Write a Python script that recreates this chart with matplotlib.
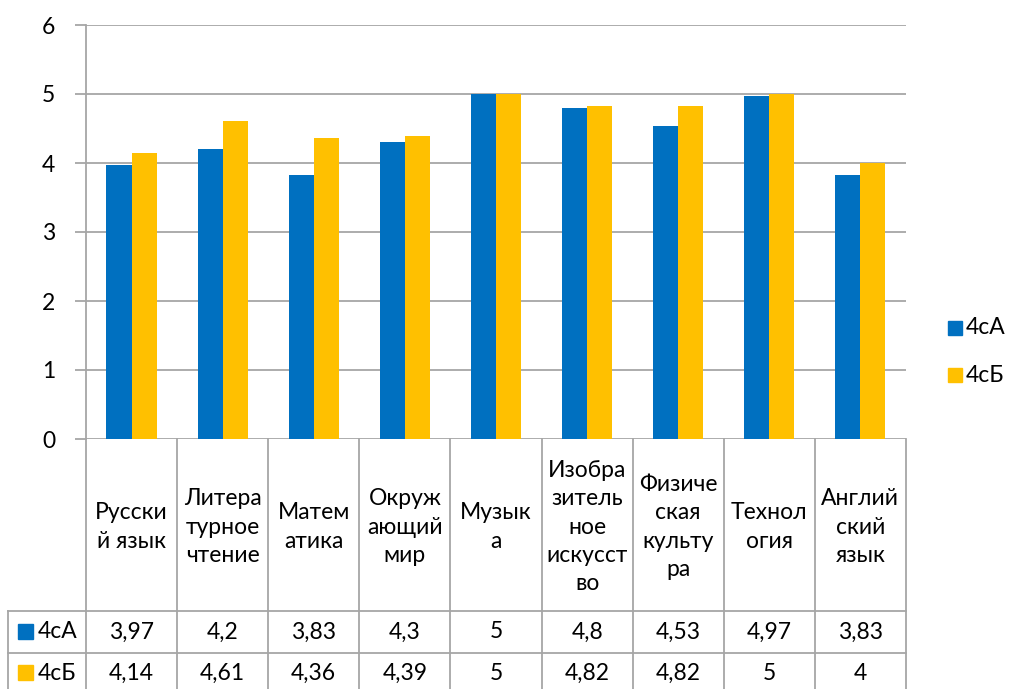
import matplotlib
matplotlib.use("Agg")
import matplotlib.pyplot as plt
import numpy as np

categories = ["Русски\nй язык", "Литера\nтурное\nчтение", "Матем\nатика", "Окруж\nающий\nмир",
              "Музык\nа", "Изобра\nзитель\nное\nискусст\nво", "Физиче\nская\nкульту\nра",
              "Технол\nогия", "Англий\nский\nязык"]
series_names = ["4сА", "4сБ"]
values_a = [3.97, 4.2, 3.83, 4.3, 5, 4.8, 4.53, 4.97, 3.83]
values_b = [4.14, 4.61, 4.36, 4.39, 5, 4.82, 4.82, 5, 4]
colors = ["#0070C0", "#FFC000"]
yticks = [0, 1, 2, 3, 4, 5, 6]

plt.rcParams['font.family'] = ['Lato', 'DejaVu Sans']
FS = 16.5
W, H = 1011, 689
fig = plt.figure(figsize=(W / 100, H / 100), dpi=100)

# pixel layout
x0, x1 = 86, 906
y_top, y_zero = 25, 439
ax = fig.add_axes([x0 / W, (H - y_zero) / H, (x1 - x0) / W, (y_zero - y_top) / H])
n = len(categories)
x = np.arange(n)
bw = 0.275
ax.bar(x - bw / 2, values_a, bw, color=colors[0], zorder=3)
ax.bar(x + bw / 2, values_b, bw, color=colors[1], zorder=3)
ax.set_xlim(-0.5, n - 0.5)
ax.set_ylim(0, 6)
ax.set_yticks(yticks)
ax.set_yticklabels([str(t) for t in yticks], fontsize=FS)
ax.grid(axis='y', color='#A6A6A6', linewidth=1.3, zorder=0)
ax.tick_params(axis='y', length=8, color='#A6A6A6', width=1.3, pad=14)
ax.tick_params(axis='x', length=0, labelbottom=False)
for s in ['top', 'right', 'bottom']:
    ax.spines[s].set_visible(False)
ax.spines['left'].set_color('#A6A6A6')
ax.spines['left'].set_linewidth(1.3)

# overlay for table / legend in pixel coords
ov = fig.add_axes([0, 0, 1, 1], facecolor='none')
ov.set_xlim(0, W)
ov.set_ylim(H, 0)
ov.axis('off')
gc = '#A6A6A6'
cw = (x1 - x0) / n
row1, row2 = 611, 653
# vertical lines of table
for i in range(n + 1):
    xx = x0 + i * cw
    ov.plot([xx, xx], [y_zero, H], color=gc, lw=1.3)
ov.plot([8, 8], [row1, H], color=gc, lw=1.3)
for yy in [row1, row2]:
    ov.plot([8, x1], [yy, yy], color=gc, lw=1.3)
# header labels
for i, c in enumerate(categories):
    ov.text(x0 + (i + 0.5) * cw, 527, c, ha='center', va='center', fontsize=FS,
            linespacing=1.42)

def fmt(v):
    return f"{v:g}".replace('.', ',')

for r, (vals, yy) in enumerate([(values_a, 632), (values_b, 673)]):
    ov.add_patch(plt.Rectangle((18, yy - 8), 15, 15, color=colors[r]))
    ov.text(38, yy, series_names[r], ha='left', va='center', fontsize=FS)
    for i, v in enumerate(vals):
        ov.text(x0 + (i + 0.5) * cw, yy, fmt(v), ha='center', va='center', fontsize=FS)

# legend
for r, yy in enumerate([328, 375]):
    ov.add_patch(plt.Rectangle((948, yy - 7), 14, 14, color=colors[r]))
    ov.text(966, yy, series_names[r], ha='left', va='center', fontsize=FS)

fig.savefig("out.png", dpi=100)
